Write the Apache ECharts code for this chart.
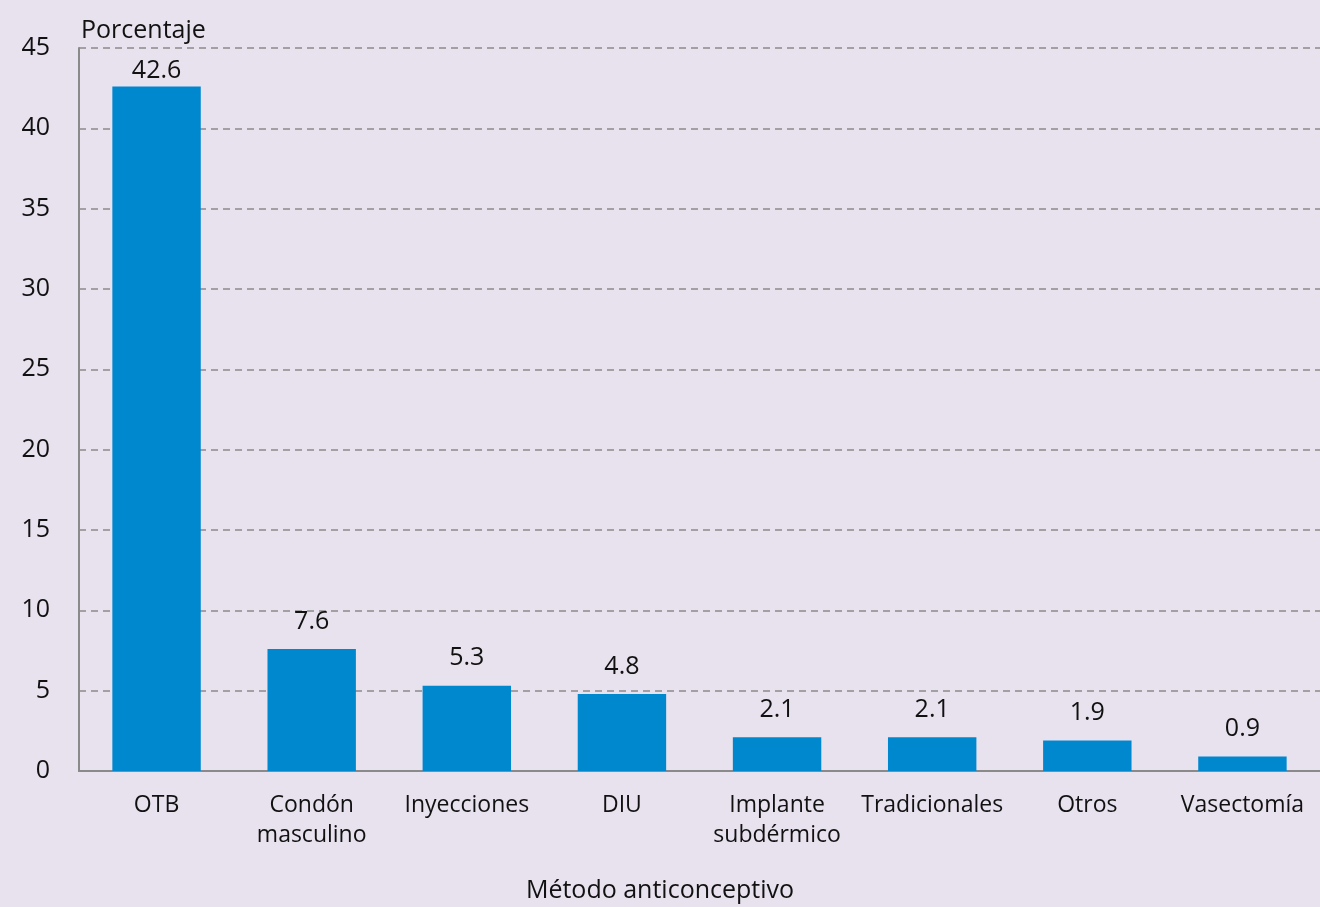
<!DOCTYPE html>
<html><head><meta charset="utf-8">
<script src="https://cdn.jsdelivr.net/npm/echarts@6/dist/echarts.min.js"></script>
<style>html,body{margin:0;padding:0;background:#E8E1EE}#c{width:1320px;height:907px}</style>
</head><body><div id="c"></div>
<script>
const categories = ['OTB', 'Condón\nmasculino', 'Inyecciones', 'DIU', 'Implante\nsubdérmico', 'Tradicionales', 'Otros', 'Vasectomía'];
const values = [42.6, 7.6, 5.3, 4.8, 2.1, 2.1, 1.9, 0.9];
const yTicks = [0, 5, 10, 15, 20, 25, 30, 35, 40, 45];
const yAxisName = 'Porcentaje';
const xAxisName = 'Método anticonceptivo';

const font = '"Open Sans", "Noto Sans", sans-serif';
const chart = echarts.init(document.getElementById('c'));
chart.setOption({
  backgroundColor: '#E8E1EE',
  animation: false,
  grid: { left: 79, right: 0, top: 48, bottom: 136, containLabel: false },
  graphic: [{
    type: 'text', left: 'center', top: 878,
    style: { text: xAxisName, font: '25px ' + font, fill: '#111' }
  }],
  xAxis: {
    type: 'category', data: categories,
    axisLine: { lineStyle: { color: '#8a8a8a', width: 2 } },
    axisTick: { show: false },
    axisLabel: { color: '#111', fontSize: 23, fontFamily: font, margin: 19, lineHeight: 30, interval: 0 }
  },
  yAxis: {
    type: 'value', min: 0, max: 45, interval: 5,
    name: yAxisName, nameLocation: 'end', nameGap: 5,
    nameTextStyle: { color: '#111', fontSize: 25, fontFamily: font, align: 'left', padding: [0, 0, 0, 2] },
    axisLine: { show: true, lineStyle: { color: '#8a8a8a', width: 2 } },
    axisTick: { show: false },
    axisLabel: { color: '#111', fontSize: 25, fontFamily: font, margin: 29,
      formatter: v => yTicks.includes(v) ? String(v) : '' },
    splitLine: { lineStyle: { color: '#8a8a8a', type: [7, 5], width: 1.5 } }
  },
  series: [{
    type: 'bar', barWidth: '57%',
    data: values.map((v, i) => i === 0 ? { value: v, label: { distance: 3 } } : v),
    itemStyle: { color: '#0088CF' },
    label: { show: true, position: 'top', distance: 15, color: '#111', fontSize: 25, fontFamily: font,
      formatter: p => p.value.toFixed(1) }
  }]
});
</script></body></html>
